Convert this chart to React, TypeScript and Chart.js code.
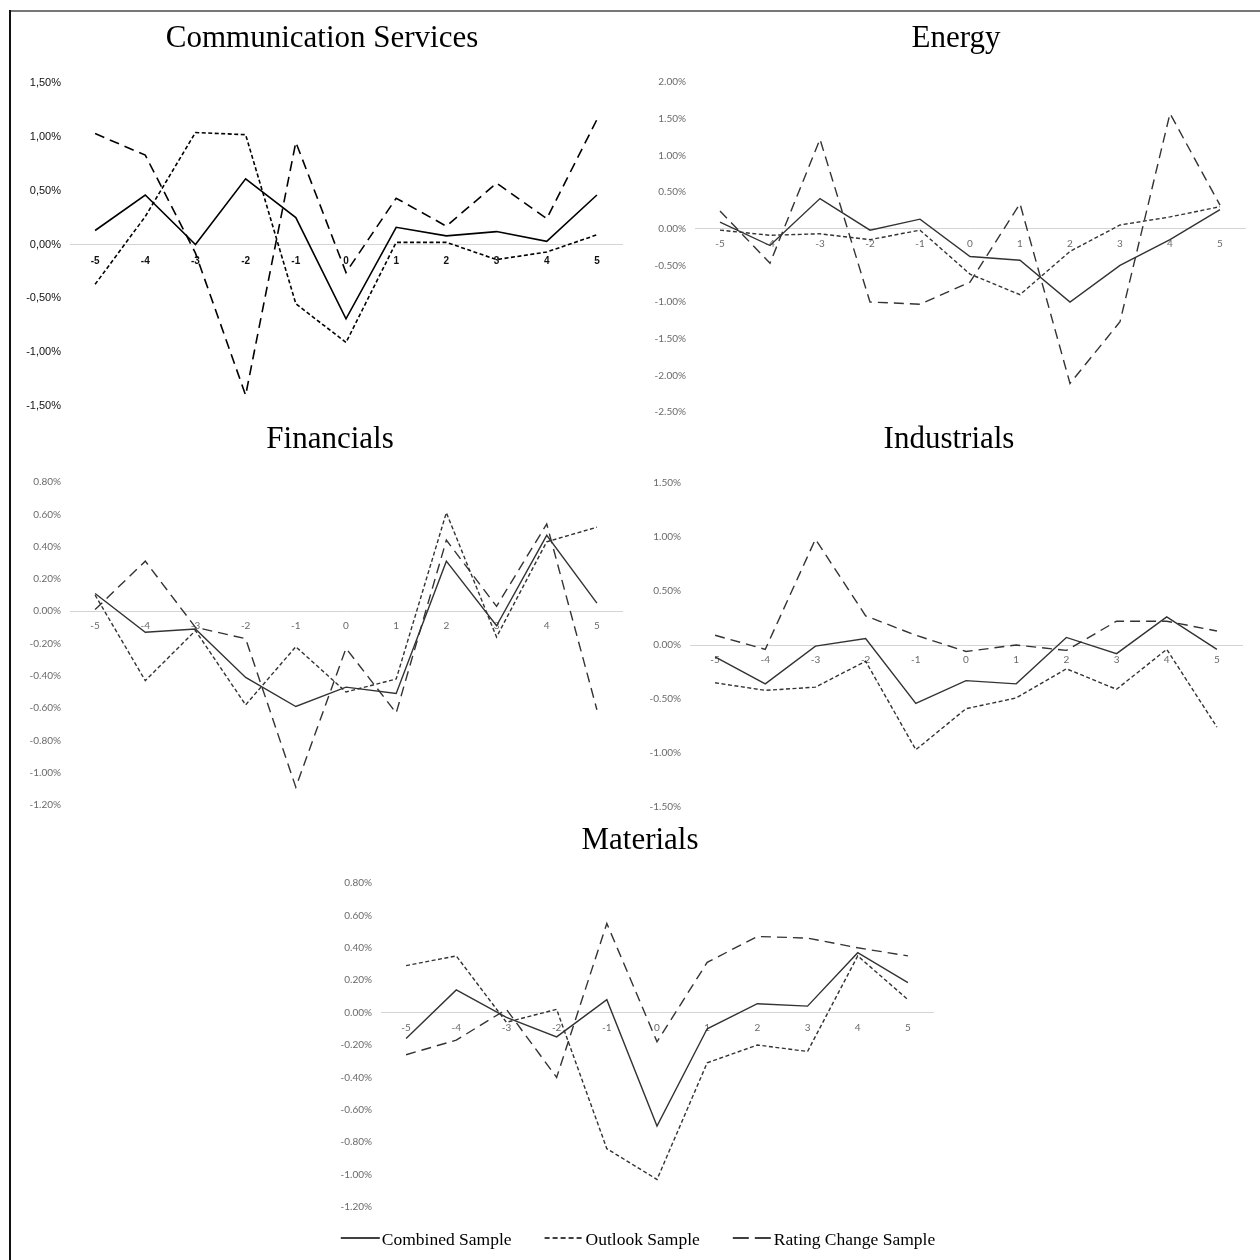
import React, { useEffect, useRef } from 'react';
import { Chart, registerables } from 'chart.js';

Chart.register(...registerables);

// ---------- data ----------
const eventDays = ['-5', '-4', '-3', '-2', '-1', '0', '1', '2', '3', '4', '5'];
const seriesLabels = ['Combined Sample', 'Outlook Sample', 'Rating Change Sample'];

const commCombined = [0.13, 0.46, 0.0, 0.61, 0.25, -0.69, 0.16, 0.08, 0.12, 0.03, 0.46];
const commOutlook = [-0.37, 0.26, 1.04, 1.02, -0.55, -0.91, 0.02, 0.02, -0.14, -0.07, 0.09];
const commRating = [1.03, 0.83, -0.08, -1.4, 0.95, -0.26, 0.43, 0.17, 0.57, 0.24, 1.16];

const energyCombined = [0.09, -0.23, 0.41, -0.02, 0.13, -0.38, -0.43, -1.0, -0.5, -0.15, 0.26];
const energyOutlook = [-0.02, -0.09, -0.07, -0.15, -0.02, -0.62, -0.9, -0.31, 0.05, 0.16, 0.3];
const energyRating = [0.24, -0.47, 1.22, -1.0, -1.03, -0.73, 0.34, -2.11, -1.27, 1.57, 0.32];

const finCombined = [0.11, -0.13, -0.11, -0.41, -0.59, -0.47, -0.51, 0.31, -0.09, 0.47, 0.05];
const finOutlook = [0.1, -0.43, -0.12, -0.58, -0.22, -0.5, -0.42, 0.61, -0.16, 0.43, 0.52];
const finRating = [0.01, 0.31, -0.1, -0.17, -1.09, -0.23, -0.63, 0.44, 0.03, 0.54, -0.61];

const indCombined = [-0.11, -0.36, -0.01, 0.06, -0.54, -0.33, -0.36, 0.07, -0.08, 0.26, -0.04];
const indOutlook = [-0.35, -0.42, -0.39, -0.15, -0.97, -0.59, -0.49, -0.22, -0.41, -0.04, -0.76];
const indRating = [0.09, -0.04, 0.98, 0.27, 0.09, -0.06, 0.0, -0.05, 0.22, 0.22, 0.13];

const matCombined = [-0.16, 0.14, -0.03, -0.15, 0.08, -0.7, -0.1, 0.055, 0.04, 0.37, 0.185];
const matOutlook = [0.29, 0.35, -0.06, 0.02, -0.84, -1.03, -0.31, -0.2, -0.24, 0.35, 0.08];
const matRating = [-0.26, -0.17, 0.02, -0.4, 0.55, -0.18, 0.31, 0.47, 0.46, 0.4, 0.35];

// ---------- layout / style ----------
const TITLE_SIZE = 31;
const TITLE_FONT = 'Liberation Serif';
const LEGEND_Y = 1240;

type Panel = {
  title: string;
  series: number[][];
  min: number;
  max: number;
  step: number;
  comma: boolean;
  left: number;
  top: number;
  width: number;
  bottom: number;
  plotLeft: number;
  plotRight: number;
  plotTop: number;
  plotBottom: number;
  titleY: number;
  dark: boolean;
  legend: boolean;
};

// canvas is horizontally centred on its title
const panels: Panel[] = [
  {
    title: 'Communication Services', series: [commCombined, commOutlook, commRating],
    min: -1.5, max: 1.5, step: 0.5, comma: true,
    left: 0, top: 12, width: 644, bottom: 428,
    plotLeft: 70, plotRight: 622, plotTop: 83, plotBottom: 406, titleY: 39, dark: true, legend: false,
  },
  {
    title: 'Energy', series: [energyCombined, energyOutlook, energyRating],
    min: -2.5, max: 2.0, step: 0.5, comma: false,
    left: 652, top: 12, width: 608, bottom: 434,
    plotLeft: 695, plotRight: 1245, plotTop: 82, plotBottom: 412, titleY: 39, dark: false, legend: false,
  },
  {
    title: 'Financials', series: [finCombined, finOutlook, finRating],
    min: -1.2, max: 0.8, step: 0.2, comma: false,
    left: 0, top: 418, width: 660, bottom: 827,
    plotLeft: 70, plotRight: 622, plotTop: 482, plotBottom: 805, titleY: 440, dark: false, legend: false,
  },
  {
    title: 'Industrials', series: [indCombined, indOutlook, indRating],
    min: -1.5, max: 1.5, step: 0.5, comma: false,
    left: 638, top: 418, width: 622, bottom: 829,
    plotLeft: 690, plotRight: 1242, plotTop: 483, plotBottom: 807, titleY: 440, dark: false, legend: false,
  },
  {
    title: 'Materials', series: [matCombined, matOutlook, matRating],
    min: -1.2, max: 0.8, step: 0.2, comma: false,
    left: 320, top: 818, width: 640, bottom: 1258,
    plotLeft: 381, plotRight: 933, plotTop: 883, plotBottom: 1207, titleY: 841, dark: false, legend: true,
  },
];

const dashes: number[][] = [[], [4, 2.5], [10, 6]];
const legendDashes: number[][] = [[], [5, 3], [16, 6]];

function makeLegendPlugin(panel: Panel) {
  return {
    id: 'sampleLegend',
    afterDraw(chart: any) {
      const ctx = chart.ctx as CanvasRenderingContext2D;
      ctx.save();
      ctx.font = `17.5px "${TITLE_FONT}"`;
      const lineLen = 39;
      const gap = 2;
      const itemGap = 33;
      const items = chart.data.datasets.map((ds: any, i: number) => ({
        label: ds.label as string,
        i,
        w: lineLen + gap + ctx.measureText(ds.label).width,
      }));
      const total = items.reduce((a: number, b: any) => a + b.w, 0) + itemGap * (items.length - 1);
      let x = chart.width / 2 - 2 - total / 2;
      const y = LEGEND_Y - panel.top;
      items.forEach((it: any) => {
        ctx.strokeStyle = '#000';
        ctx.lineWidth = 1.6;
        ctx.setLineDash(legendDashes[it.i]);
        ctx.beginPath();
        ctx.moveTo(x, y - 2);
        ctx.lineTo(x + lineLen, y - 2);
        ctx.stroke();
        ctx.setLineDash([]);
        ctx.fillStyle = '#000';
        ctx.textBaseline = 'middle';
        ctx.textAlign = 'left';
        ctx.fillText(it.label, x + lineLen + gap, y);
        x += it.w + itemGap;
      });
      ctx.restore();
    },
  };
}

function buildConfig(p: Panel): any {
  const lh = TITLE_SIZE * 1.2;
  const padTop = p.titleY - p.top - lh / 2;
  const padBottom = p.plotTop - p.top - padTop - lh;
  const yWidth = p.plotLeft - p.left;
  const rightWidth = p.left + p.width - p.plotRight;
  const padBot = p.bottom - p.plotBottom;
  const lineColor = p.dark ? '#000000' : '#333333';
  const lineWidth = p.dark ? 1.6 : 1.4;
  const tickColor = p.dark ? '#111111' : '#6a6a6a';
  const yFont = p.dark ? { family: 'Liberation Sans', size: 11 } : { family: 'Lato', size: 10 };
  const xFont = p.dark ? { family: 'Liberation Sans', size: 10, weight: 'bold' } : { family: 'Lato', size: 10 };

  return {
    type: 'line',
    data: {
      labels: eventDays,
      datasets: p.series.map((s, i) => ({
        label: seriesLabels[i],
        data: s,
        yAxisID: 'y',
        borderColor: lineColor,
        backgroundColor: lineColor,
        borderWidth: lineWidth,
        borderDash: dashes[i],
        pointRadius: 0,
        tension: 0,
        fill: false,
      })),
    },
    options: {
      animation: false,
      responsive: false,
      maintainAspectRatio: false,
      events: [],
      layout: { padding: { left: 0, right: 0, top: 0, bottom: padBot } },
      plugins: {
        legend: { display: false },
        tooltip: { enabled: false },
        title: {
          display: true,
          text: p.title,
          color: '#000',
          font: { family: TITLE_FONT, size: TITLE_SIZE, weight: 'normal', lineHeight: 1.2 },
          padding: { top: padTop, bottom: padBottom },
        },
      },
      scales: {
        x: {
          type: 'category',
          position: { y: 0 },
          offset: true,
          grid: { display: false, drawTicks: false },
          border: { display: true, color: '#d4d4d4', width: 1 },
          ticks: { color: tickColor, font: xFont, padding: p.dark ? 11 : 9, maxRotation: 0, autoSkip: false },
        },
        y: {
          type: 'linear',
          position: 'left',
          min: p.min,
          max: p.max,
          grid: { display: false, drawTicks: false },
          border: { display: false },
          ticks: {
            stepSize: p.step,
            color: tickColor,
            font: yFont,
            padding: 9,
            callback: (v: number) => {
              const s = (Math.round(v * 100) / 100).toFixed(2) + '%';
              return p.comma ? s.replace('.', ',') : s;
            },
          },
          afterFit: (scale: any) => {
            scale.width = yWidth;
          },
        },
        spacer: {
          type: 'linear',
          position: 'right',
          display: true,
          grid: { display: false, drawTicks: false },
          border: { display: false },
          ticks: { display: false },
          afterFit: (scale: any) => {
            scale.width = rightWidth;
          },
        },
      },
    },
    plugins: p.legend ? [makeLegendPlugin(p)] : [],
  };
}

function PanelChart({ panel }: { panel: Panel }) {
  const ref = useRef<HTMLCanvasElement | null>(null);
  const height = panel.bottom - panel.top;
  useEffect(() => {
    if (!ref.current) return;
    const chart = new Chart(ref.current, buildConfig(panel));
    return () => chart.destroy();
  }, [panel]);
  return (
    <canvas
      ref={ref}
      width={panel.width}
      height={height}
      style={{ position: 'absolute', left: panel.left, top: panel.top, width: panel.width, height }}
    />
  );
}

export default function App() {
  return (
    <div style={{ position: 'absolute', left: 0, top: 0, width: 1260, height: 1260, background: '#fff', overflow: 'hidden' }}>
      {panels.map((p) => (
        <PanelChart key={p.title} panel={p} />
      ))}
      <div style={{ position: 'absolute', left: 9, top: 10, width: 1251, height: 2, background: '#777' }} />
      <div style={{ position: 'absolute', left: 9, top: 10, width: 2, height: 1250, background: '#111' }} />
    </div>
  );
}
